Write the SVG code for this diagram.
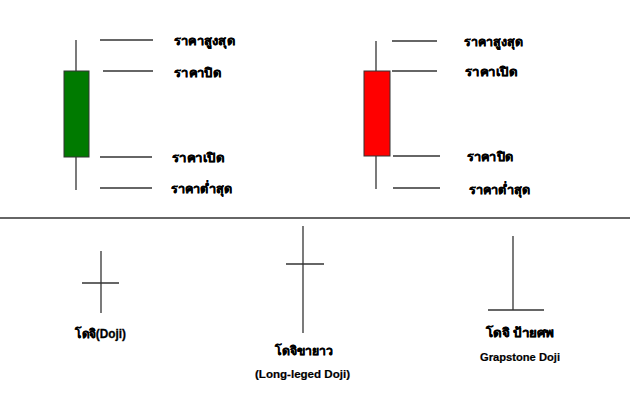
<svg xmlns="http://www.w3.org/2000/svg" width="640" height="401" viewBox="0 0 640 401">
<style>
.ln{stroke:#333;stroke-width:1.3;fill:none}
.lbl{font-family:"Liberation Sans","Noto Sans","DejaVu Sans",sans-serif;font-weight:bold;font-size:12.5px;fill:#000;stroke:#000;stroke-width:0.3}
.sub{font-family:"Liberation Sans","Noto Sans",sans-serif;font-weight:bold;font-size:11.5px;fill:#000;stroke:#000;stroke-width:0.2}
.body{stroke:#333;stroke-width:1}
</style>
<rect width="640" height="401" fill="#fff"/>
<g id="green-candle">
<line class="ln" x1="76" y1="40" x2="76" y2="190"/>
<rect class="body" x="64" y="71" width="25" height="86" fill="#007a00"/>
</g>
<g id="green-labels">
<line class="ln" x1="100" y1="40" x2="153" y2="40"/>
<line class="ln" x1="103" y1="71" x2="153" y2="71"/>
<line class="ln" x1="100" y1="157" x2="152" y2="157"/>
<line class="ln" x1="100" y1="188" x2="152" y2="188"/>
<text class="lbl" x="174" y="45" textLength="61" lengthAdjust="spacingAndGlyphs">ราคาสูงสุด</text>
<text class="lbl" x="174" y="77" textLength="47" lengthAdjust="spacingAndGlyphs">ราคาปิด</text>
<text class="lbl" x="172" y="162" textLength="52" lengthAdjust="spacingAndGlyphs">ราคาเปิด</text>
<text class="lbl" x="171" y="193" textLength="61" lengthAdjust="spacingAndGlyphs">ราคาต่ำสุด</text>
</g>
<g id="red-candle">
<line class="ln" x1="376" y1="41" x2="376" y2="189"/>
<rect class="body" x="364" y="71" width="26" height="85" fill="#ff0000"/>
</g>
<g id="red-labels">
<line class="ln" x1="392" y1="41" x2="437" y2="41"/>
<line class="ln" x1="392" y1="71" x2="437" y2="71"/>
<line class="ln" x1="393" y1="156" x2="440" y2="156"/>
<line class="ln" x1="393" y1="188" x2="440" y2="188"/>
<text class="lbl" x="464" y="46" textLength="59" lengthAdjust="spacingAndGlyphs">ราคาสูงสุด</text>
<text class="lbl" x="465" y="76" textLength="52" lengthAdjust="spacingAndGlyphs">ราคาเปิด</text>
<text class="lbl" x="467" y="161" textLength="46" lengthAdjust="spacingAndGlyphs">ราคาปิด</text>
<text class="lbl" x="469" y="194" textLength="61" lengthAdjust="spacingAndGlyphs">ราคาต่ำสุด</text>
</g>
<g id="separator">
<line class="ln" x1="0" y1="218" x2="630" y2="218"/>
</g>
<g id="doji">
<line class="ln" x1="101" y1="251" x2="101" y2="313"/>
<line class="ln" x1="82" y1="283" x2="119" y2="283"/>
<text class="lbl" x="75" y="338" textLength="51" lengthAdjust="spacingAndGlyphs">โดจิ(Doji)</text>
</g>
<g id="long-legged-doji">
<line class="ln" x1="303" y1="226" x2="303" y2="333"/>
<line class="ln" x1="286" y1="264" x2="324" y2="264"/>
<text class="lbl" x="275" y="355" textLength="58" lengthAdjust="spacingAndGlyphs">โดจิขายาว</text>
<text class="sub" x="255" y="378" textLength="95" lengthAdjust="spacingAndGlyphs">(Long-leged Doji)</text>
</g>
<g id="gravestone-doji">
<line class="ln" x1="513" y1="236" x2="513" y2="310"/>
<line class="ln" x1="488" y1="310" x2="544" y2="310"/>
<text class="lbl" x="486" y="337" textLength="68" lengthAdjust="spacingAndGlyphs">โดจิ ป้ายศพ</text>
<text class="sub" x="480" y="361" textLength="80" lengthAdjust="spacingAndGlyphs">Grapstone Doji</text>
</g>
</svg>
